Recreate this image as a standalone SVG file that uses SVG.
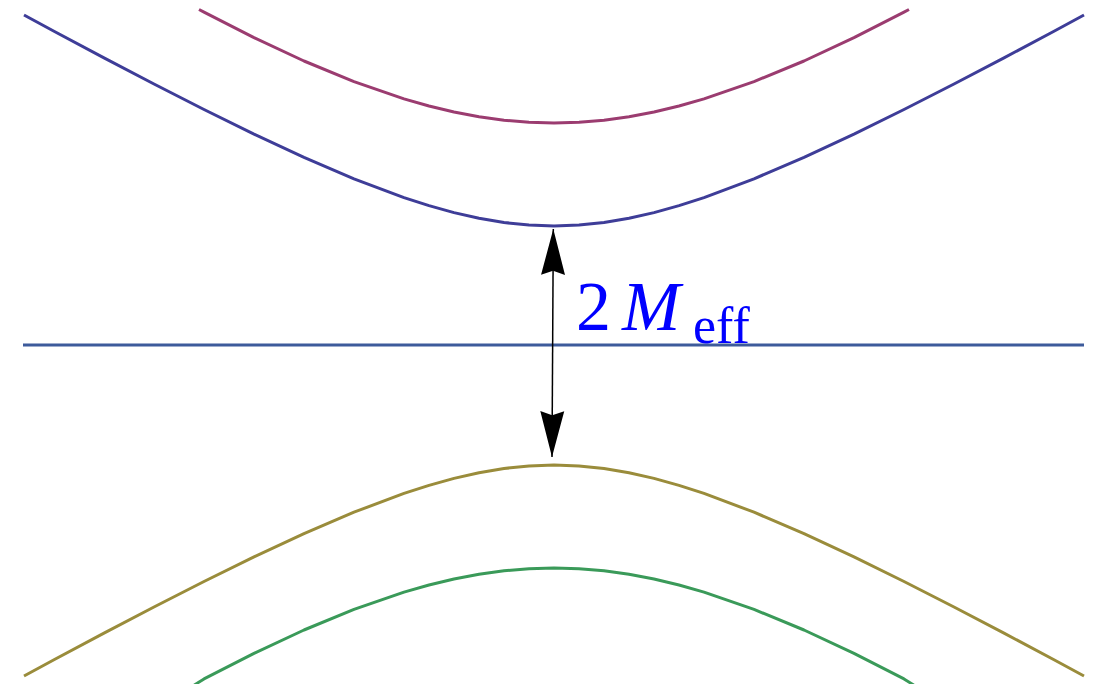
<svg xmlns="http://www.w3.org/2000/svg" width="1099" height="684" viewBox="0 0 1099 684">
<style>
.c{fill:none;stroke-width:3;stroke-linejoin:round;stroke-linecap:butt}
.t{font-family:"Liberation Serif","Times New Roman",serif;fill:#0000ff}
</style>
<defs>
<marker id="ah" markerUnits="userSpaceOnUse" markerWidth="50" markerHeight="30" viewBox="-46 -13 48 26" refX="0" refY="0" orient="auto-start-reverse">
<path d="M0,0 L-44,-11.5 L-40,0 L-44,11.5 Z" fill="#000"/>
</marker>
</defs>
<rect width="1099" height="684" fill="#fff"/>
<g id="curves">
<polyline id="magenta" class="c" stroke="#9b3c70" points="199,9.5 204,12.1 254,37.6 304,61 354,81.6 404,98.9 429,106 454,112 479,116.7 504,120.2 529,122.3 554,123 579,122.3 604,120.2 629,116.7 654,112 679,106 704,98.9 754,81.6 804,61 854,37.6 904,12.1 909,9.5"/>
<polyline id="blue" class="c" stroke="#3e3d98" points="24,15 54,31.2 104,57.9 154,84 204,109.5 254,134.1 304,157.3 354,178.8 404,197.6 429,205.6 454,212.6 479,218.3 504,222.5 529,225.1 554,226 579,225.1 604,222.5 629,218.3 654,212.6 679,205.6 704,197.6 754,178.8 804,157.3 854,134.1 904,109.5 954,84 1004,57.9 1054,31.2 1084,15"/>
<line id="axis" class="c" stroke="#3d5b9b" x1="23" y1="345" x2="1084" y2="345"/>
<polyline id="olive" class="c" stroke="#9a8c3b" points="24,676 54,659.8 104,633.1 154,607 204,581.5 254,556.9 304,533.7 354,512.2 404,493.4 429,485.4 454,478.4 479,472.7 504,468.5 529,465.9 554,465 579,465.9 604,468.5 629,472.7 654,478.4 679,485.4 704,493.4 754,512.2 804,533.7 854,556.9 904,581.5 954,607 1004,633.1 1054,659.8 1084,676"/>
<polyline id="green" class="c" stroke="#3a9a59" points="194,685.2 204,678.9 254,653.4 304,630 354,609.4 404,592.1 429,585 454,579 479,574.3 504,570.8 529,568.7 554,568 579,568.7 604,570.8 629,574.3 654,579 679,585 704,592.1 754,609.4 804,630 854,653.4 904,678.9 914,685.2"/>
</g>
<g id="connectors">
<line x1="553.3" y1="229" x2="552" y2="457" stroke="#000" stroke-width="1.5" marker-start="url(#ah)" marker-end="url(#ah)"/>
</g>
<g id="label">
<text class="t" x="576" y="330" font-size="70">2</text>
<text class="t" x="622" y="330" font-size="70" font-style="italic">M</text>
<text class="t" x="693" y="343" font-size="52">eff</text>
</g>
</svg>
